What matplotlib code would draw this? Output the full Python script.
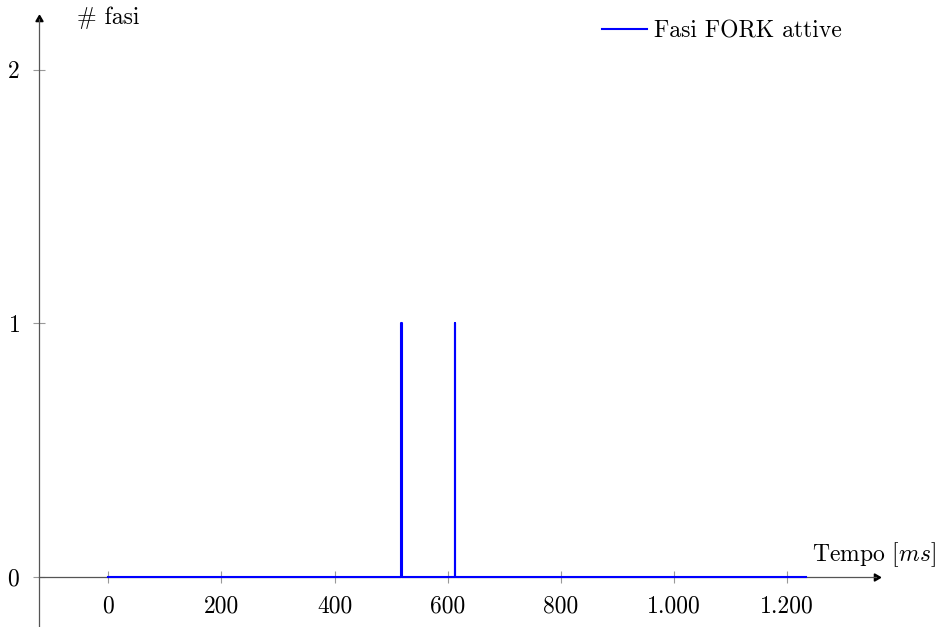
import matplotlib
matplotlib.use("Agg")
from matplotlib import pyplot as plt

# active FORK phases over time
tempo = [0, 517, 517, 518.5, 518.5, 613, 613, 613.5, 613.5, 1233]
fasi = [0, 0, 1, 1, 0, 0, 1, 1, 0, 0]

x_ticks = [0, 200, 400, 600, 800, 1000, 1200]
x_tick_labels = ["0", "200", "400", "600", "800", "1.000", "1.200"]
y_ticks = [0, 1, 2]

plt.rcParams['font.family'] = 'cmr10'
plt.rcParams['mathtext.fontset'] = 'cm'
plt.rcParams['axes.formatter.use_mathtext'] = True
plt.rcParams['font.size'] = 17

AXIS = '#555555'

fig = plt.figure(figsize=(9.44, 6.27), dpi=100)
ax = fig.add_axes([39.3 / 944, 0, 836.7 / 944, 608 / 627])
ax.set_xlim(-122, 1357)
ax.set_ylim(-0.197, 2.2)

ax.plot(tempo, fasi, color='blue', lw=1.5, label='Fasi FORK attive', zorder=3)

# axis lines through the origin, with arrow tips
for s in ['top', 'right']:
    ax.spines[s].set_visible(False)
ax.spines['bottom'].set_position(('data', 0))
ax.spines['bottom'].set_color(AXIS)
ax.spines['left'].set_color(AXIS)
ax.spines['bottom'].set_linewidth(0.9)
ax.spines['left'].set_linewidth(0.9)
ax.plot(1, 0, marker=(3, 0, -90), color='black', ms=6,
        transform=ax.get_yaxis_transform(), clip_on=False)
ax.plot(0, 1, marker=(3, 0, 0), color='black', ms=6,
        transform=ax.transAxes, clip_on=False)

ax.set_xticks(x_ticks)
ax.set_xticklabels(x_tick_labels)
ax.set_yticks(y_ticks)
ax.tick_params(direction='inout', length=8, width=0.8, color='#999999')
ax.tick_params(axis='x', pad=9)
ax.tick_params(axis='y', pad=10)

fig.text(812 / 944, 1 - 555 / 627, 'Tempo [$ms$]', ha='left', va='center')
fig.text(77 / 944, 1 - 18 / 627, '# fasi', ha='left', va='center')

ax.legend(loc='center left', bbox_to_anchor=(590 / 944, 1 - 31 / 627),
          bbox_transform=fig.transFigure, frameon=False, borderpad=0,
          handlelength=1.9, handletextpad=0.3)

fig.savefig('out.png', dpi=100)
